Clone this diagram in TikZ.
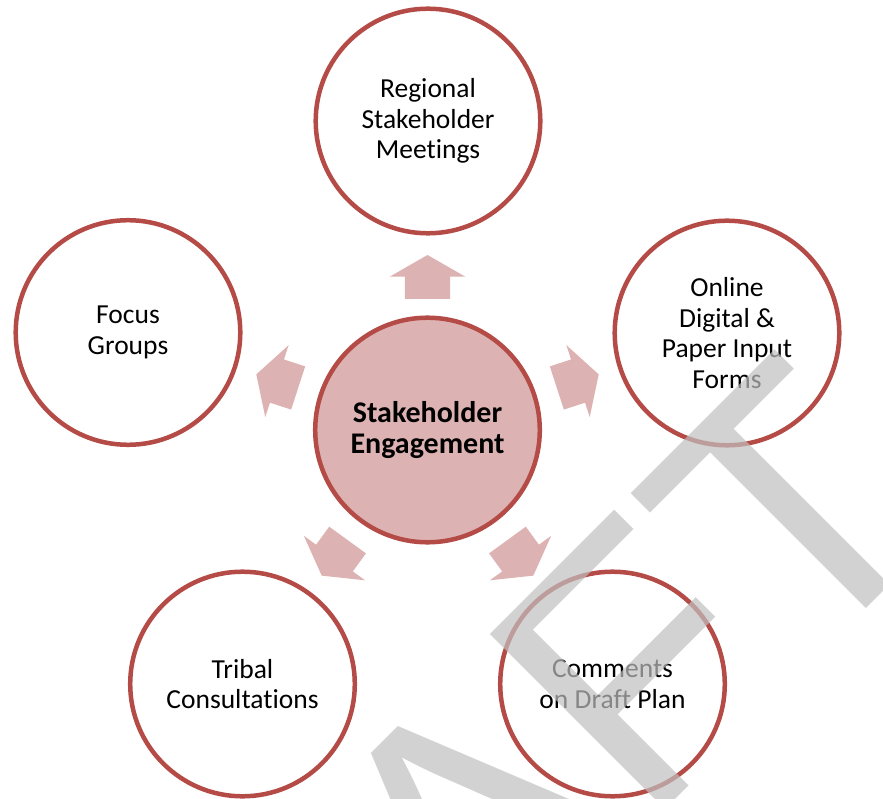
\documentclass[tikz,border=0pt]{standalone}
\usepackage{fontspec}
\setmainfont{Carlito}[Ligatures={NoCommon}]
\newfontfamily\wmfont{Liberation Sans}
\definecolor{ringc}{RGB}{180,75,70}
\definecolor{pinkfill}{RGB}{221,178,178}
\definecolor{wmgray}{RGB}{192,192,192}
\begin{document}
\begin{tikzpicture}[x=1pt,y=-1pt,
  ring/.style={circle, draw=ringc, line width=4.5pt, minimum size=224.6pt,
    inner sep=0pt, align=center, fill=white, font=\fontsize{27.5}{30.5}\selectfont},
  hub/.style={ring, fill=pinkfill, font=\bfseries\fontsize{30}{30.5}\selectfont},
  outward/.style={fill=pinkfill, draw=none},
  watermark/.style={rotate=45, anchor=base west, inner sep=0pt, text=wmgray,
    text opacity=0.7, font=\wmfont\fontsize{360}{360}\selectfont}]
\useasboundingbox (0,0) rectangle (883,799);
\fill[white] (0,0) rectangle (883,799);
\node[hub] (hub) at (427.5,430) {Stakeholder\\Engagement};
\node[ring] (meet) at (428,121) {Regional\\Stakeholder\\Meetings};
\node[ring] (online) at (727,333) {Online\\Digital \&\\Paper Input\\Forms};
\node[ring] (comments) at (612.5,684) {Comments\\on Draft Plan};
\node[ring] (tribal) at (242.5,684) {Tribal\\Consultations};
\node[ring] (focus) at (128,332.5) {Focus\\Groups};
\foreach \a/\d in {90/0, 18/5, 162/5, 234/5, 306/5}{
  \fill[outward, shift={(hub.center)}, rotate=\a]
    (131+\d,-22.7) -- (153.3+\d,-22.7) -- (153.3+\d,-37.8) -- (175+\d,0)
    -- (153.3+\d,37.8) -- (153.3+\d,22.7) -- (131+\d,22.7) -- cycle;
}
\begin{scope}
\clip (0,0) rectangle (883,799);
\node[watermark] (draft) at (107,1368) {DRAFT};
\end{scope}
\end{tikzpicture}
\end{document}
